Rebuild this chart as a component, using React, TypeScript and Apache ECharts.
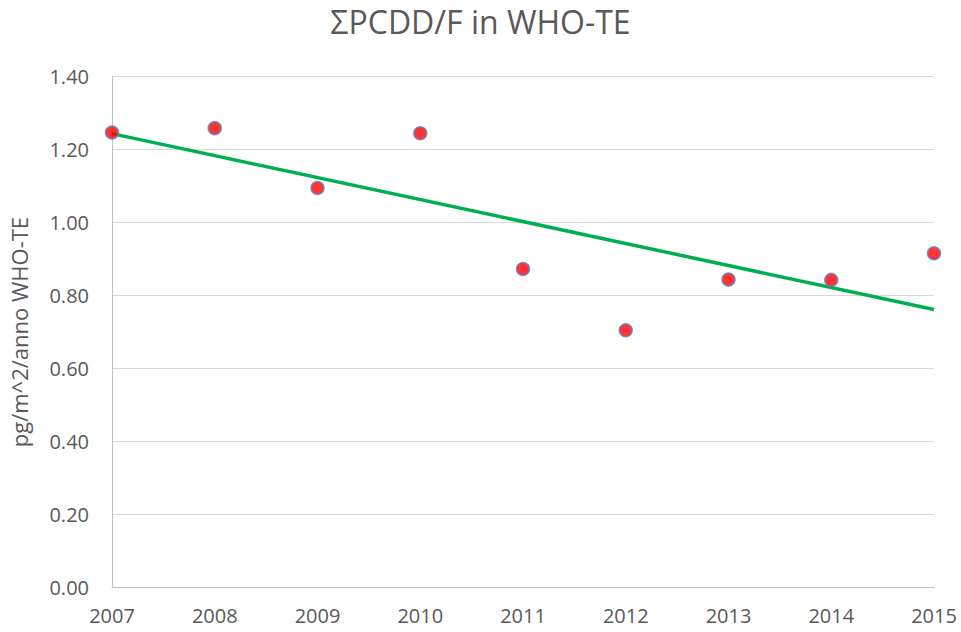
import React, { useEffect, useRef } from "react";
import * as echarts from "echarts";

const years = [2007, 2008, 2009, 2010, 2011, 2012, 2013, 2014, 2015];
const values = [1.247, 1.259, 1.095, 1.245, 0.873, 0.705, 0.844, 0.843, 0.916];
const yTicks = ["0.00", "0.20", "0.40", "0.60", "0.80", "1.00", "1.20", "1.40"];
const titleText = "ΣPCDD/F in WHO-TE";
const yAxisTitle = "pg/m^2/anno WHO-TE";

function linearTrend(xs: number[], ys: number[]) {
  const n = xs.length;
  const mx = xs.reduce((a, b) => a + b, 0) / n;
  const my = ys.reduce((a, b) => a + b, 0) / n;
  let sxy = 0, sxx = 0;
  for (let i = 0; i < n; i++) {
    sxy += (xs[i] - mx) * (ys[i] - my);
    sxx += (xs[i] - mx) * (xs[i] - mx);
  }
  const slope = sxy / sxx;
  const icpt = my - slope * mx;
  return [
    [xs[0], icpt + slope * xs[0]],
    [xs[n - 1], icpt + slope * xs[n - 1]],
  ];
}

export default function App() {
  const ref = useRef<HTMLDivElement>(null);
  useEffect(() => {
    if (!ref.current) return;
    const chart = echarts.init(ref.current, null, { renderer: "svg" });
    const font = "'Open Sans', 'Noto Sans', sans-serif";
    chart.setOption({
      animation: false,
      backgroundColor: "#ffffff",
      title: {
        text: titleText,
        left: "center",
        top: 0,
        textStyle: { fontFamily: font, fontSize: 32, fontWeight: "normal", color: "#595959" },
      },
      grid: { left: 110.7, right: 27, top: 76.7, bottom: 44.5 },
      xAxis: {
        type: "value",
        min: 2007,
        max: 2015,
        interval: 1,
        axisLine: { show: true, lineStyle: { color: "#bfbfbf", width: 1 } },
        axisTick: { show: false },
        splitLine: { show: false },
        axisLabel: {
          margin: 18,
          fontFamily: font,
          fontSize: 20,
          color: "#595959",
          formatter: (v: number) => String(v),
        },
      },
      yAxis: {
        type: "value",
        min: 0,
        max: 1.4,
        interval: 0.2,
        name: yAxisTitle,
        nameLocation: "middle",
        nameGap: 82,
        nameRotate: 90,
        nameTextStyle: { fontFamily: font, fontSize: 22, color: "#595959" },
        axisLine: { show: true, lineStyle: { color: "#bfbfbf", width: 1 } },
        axisTick: { show: false },
        splitLine: { show: true, lineStyle: { color: "#d9d9d9", width: 1 } },
        axisLabel: {
          margin: 23,
          fontFamily: font,
          fontSize: 20,
          color: "#595959",
          formatter: (v: number) => yTicks[Math.round(v / 0.2)] ?? v.toFixed(2),
        },
      },
      series: [
        {
          type: "line",
          data: linearTrend(years, values),
          symbol: "none",
          lineStyle: { color: "#00b050", width: 3.5 },
          z: 2,
        },
        {
          type: "scatter",
          data: years.map((y, i) => [y, values[i]]),
          symbol: "circle",
          symbolSize: 13,
          itemStyle: { color: "#ff0000", borderColor: "#5b86c5", borderWidth: 1.5 },
          z: 3,
        },
      ],
    });
    return () => chart.dispose();
  }, []);
  return <div ref={ref} style={{ width: 961, height: 632, position: "absolute", left: 0, top: 0 }} />;
}
